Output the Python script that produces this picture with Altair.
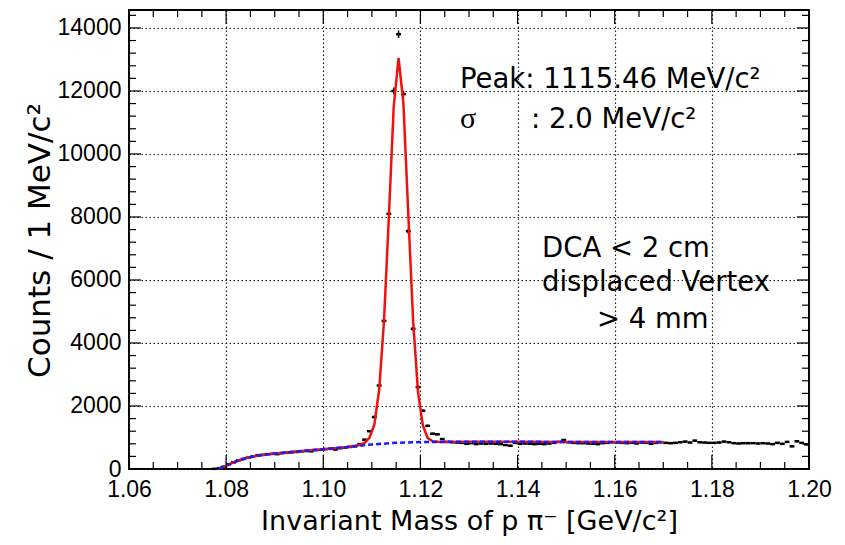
import altair as alt
import pandas as pd

# ---------------- data ----------------
# histogram counts, 1 MeV/c^2 bins, first bin centre 1.0775 GeV/c^2
bin_first_center = 1.0775
bin_width = 0.001
counts = [
    5, 25, 75, 150, 210, 270, 320, 360, 400, 440,
    450, 470, 480, 470, 500, 520, 530, 540, 560, 570,
    560, 600, 610, 630, 640, 620, 660, 680, 700, 720,
    790, 930, 1200, 1650, 2650, 4700, 8100, 12000, 13800, 11900,
    7550, 4450, 2600, 1850, 1370, 1120, 1100, 950, 860, 850,
    840, 830, 800, 820, 790, 810, 800, 810, 800, 790,
    760, 740, 830, 800, 810, 800, 790, 800, 790, 810,
    830, 860, 920, 850, 830, 820, 820, 810, 800, 790,
    820, 830, 850, 840, 830, 820, 830, 810, 840, 830,
    800, 830, 850, 830, 820, 830, 850, 870, 840, 900,
    850, 840, 830, 830, 840, 870, 850, 820, 810, 820,
    820, 820, 810, 820, 810, 790, 830, 800, 860, 720,
    880, 830, 780,
]

# total fit (red)
fit_mass = [1.0785, 1.0795, 1.0805, 1.0820, 1.0840, 1.0860, 1.0880, 1.0900,
            1.0950, 1.1000, 1.1050, 1.1075, 1.1085, 1.1095, 1.1105, 1.1115,
            1.1125, 1.1135, 1.1145, 1.1155, 1.1165, 1.1175, 1.1185, 1.1195,
            1.1205, 1.1215, 1.1225, 1.1240, 1.1300, 1.1400, 1.1500, 1.1600,
            1.1700]
fit_val = [20, 70, 140, 240, 340, 410, 455, 495,
           565, 630, 700, 760, 830, 990, 1400, 2500,
           4700, 8000, 11500, 13050, 11600, 8100, 4700, 2450,
           1380, 980, 880, 860, 865, 862, 860, 857,
           855]

# background (blue dashed)
bkg_mass = [1.0785, 1.0795, 1.0805, 1.0820, 1.0840, 1.0860, 1.0880, 1.0900,
            1.0950, 1.1000, 1.1050, 1.1100, 1.1150, 1.1200, 1.1250, 1.1300,
            1.1400, 1.1500, 1.1600, 1.1700]
bkg_val = [20, 70, 140, 240, 340, 410, 455, 495,
           565, 630, 700, 780, 830, 855, 862, 865,
           862, 860, 857, 855]

# axes
x_major = [1.06, 1.08, 1.10, 1.12, 1.14, 1.16, 1.18, 1.20]
x_minor = [round(1.06 + 0.005 * i, 3) for i in range(29) if i % 4 != 0]
y_major = [0, 2000, 4000, 6000, 8000, 10000, 12000, 14000]
y_minor = [v for v in range(0, 14570, 400) if v % 2000 != 0]

x_title = "Invariant Mass of p \u03c0\u207b [GeV/c\u00b2]"
y_title = "Counts / 1 MeV/c\u00b2"

# ---------------- chart ----------------
W, H = 680, 459
xs = alt.Scale(domain=[1.06, 1.20], nice=False, zero=False)
ys = alt.Scale(domain=[0, 14570], nice=False, zero=False)
LF = "Liberation Sans"

centers = [round(bin_first_center + bin_width * i, 4) for i in range(len(counts))]
hist = pd.DataFrame({"m": centers, "n": counts})

xaxis = alt.Axis(values=x_major, format=".2f", grid=True, gridDash=[1.5, 2.5],
                 gridColor="#222222", gridWidth=1.2, ticks=False, domain=False,
                 labelFont=LF, labelFontSize=23, labelColor="black",
                 labelPadding=9, labelFlush=False, labelOverlap=False,
                 title=x_title, titleFont="DejaVu Sans", titleFontSize=27,
                 titleFontWeight="normal", titleColor="black",
                 titleX=W / 2, titleY=52, titleBaseline="middle")
yaxis = alt.Axis(values=y_major, format="d", grid=True, gridDash=[1.5, 2.5],
                 gridColor="#222222", gridWidth=1.2, ticks=False, domain=False,
                 labelFont=LF, labelFontSize=23, labelColor="black",
                 labelPadding=8, labelFlush=False, labelOverlap=False,
                 title=y_title, titleFont="DejaVu Sans", titleFontSize=31,
                 titleFontWeight="normal", titleColor="black",
                 titleX=-89, titleY=230, titleBaseline="middle", titleAngle=-90)


def X(field):
    return alt.X(field, scale=xs, axis=xaxis, title=x_title)


def Y(field):
    return alt.Y(field, scale=ys, axis=yaxis, title=y_title)


base = alt.Chart(hist).transform_calculate(
    lo="datum.m - 0.0005", hi="datum.m + 0.0005",
    elo="datum.n - sqrt(datum.n)", ehi="datum.n + sqrt(datum.n)")

bins = base.mark_rule(color="black", strokeWidth=2.5).encode(
    x=X("lo:Q"), x2="hi:Q", y=Y("n:Q"))

errs = base.mark_rule(color="black", strokeWidth=1.5).encode(
    x=X("m:Q"), y=Y("elo:Q"), y2="ehi:Q")

fit = alt.Chart(pd.DataFrame({"m": fit_mass, "v": fit_val})).mark_line(
    color="#ee1111", strokeWidth=2.5).encode(x=X("m:Q"), y=Y("v:Q"))

bkg = alt.Chart(pd.DataFrame({"m": bkg_mass, "v": bkg_val})).mark_line(
    color="#1a1aff", strokeWidth=2.5, strokeDash=[5, 3]).encode(x=X("m:Q"), y=Y("v:Q"))


def xticks(vals, length):
    d = pd.DataFrame({"t": vals})
    bot = alt.Chart(d).mark_rule(color="black", strokeWidth=1.2).encode(
        x=X("t:Q"), y=alt.value(H), y2=alt.value(H - length))
    top = alt.Chart(d).mark_rule(color="black", strokeWidth=1.2).encode(
        x=X("t:Q"), y=alt.value(0), y2=alt.value(length))
    return [bot, top]


def yticks(vals, length):
    d = pd.DataFrame({"t": vals})
    left = alt.Chart(d).mark_rule(color="black", strokeWidth=1.2).encode(
        y=Y("t:Q"), x=alt.value(0), x2=alt.value(length))
    right = alt.Chart(d).mark_rule(color="black", strokeWidth=1.2).encode(
        y=Y("t:Q"), x=alt.value(W), x2=alt.value(W - length))
    return [left, right]


one = pd.DataFrame({"k": [0]})


def note(txt, px, py, font="DejaVu Sans", size=27.5):
    return alt.Chart(one).mark_text(text=txt, font=font, fontSize=size,
                                    align="left", baseline="alphabetic",
                                    color="black").encode(
        x=alt.value(px), y=alt.value(py))


notes = [
    note("Peak: 1115.46 MeV/c\u00b2", 331, 78),
    note("\u03c3", 331, 118, font="Liberation Serif", size=30),
    note(": 2.0 MeV/c\u00b2", 402, 118),
    note("DCA < 2 cm", 413, 247),
    note("displaced Vertex", 413, 281),
    note("> 4 mm", 468, 318),
]

layers = [bins, errs, fit, bkg]
layers += xticks(x_major, 14) + xticks(x_minor, 7)
layers += yticks(y_major, 12) + yticks(y_minor, 7)
layers += notes

chart = alt.layer(*layers).properties(
    width=W, height=H,
    autosize=alt.AutoSizeParams(type="none"),
    padding={"left": 121, "top": 2, "right": 28, "bottom": 74},
    background="white",
).configure_view(stroke="black", strokeWidth=2)

chart.save("out.html", embed_options={"renderer": "svg", "actions": False})
